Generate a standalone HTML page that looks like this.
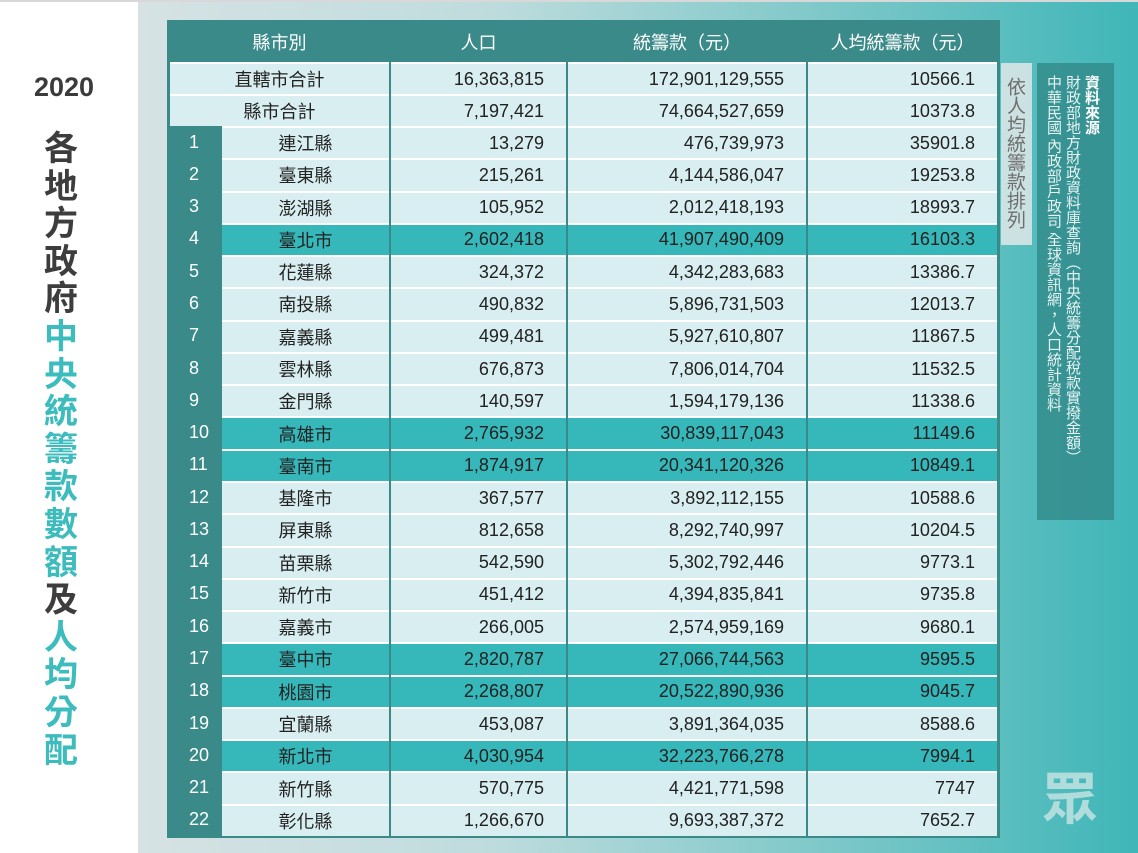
<!DOCTYPE html>
<html><head><meta charset="utf-8">
<style>
*{margin:0;padding:0;box-sizing:border-box}
body{width:1138px;height:853px;overflow:hidden;position:relative;background:#fff;font-family:"Liberation Sans","Noto Sans CJK TC",sans-serif}
#topbar{position:absolute;left:0;top:0;width:1138px;height:2px;background:#d8d8d8}
#left{position:absolute;left:0;top:2px;width:138px;height:851px;background:#fff}
#bg{position:absolute;left:138px;top:2px;width:1000px;height:851px;background:linear-gradient(90deg,#d6e2e4 0%,#bfdcdd 35%,#72c4c5 75%,#3fb6b8 100%)}
#year{position:absolute;left:0;width:128px;top:72px;text-align:center;font-weight:bold;font-size:27px;color:#3b3b3b}
.tc{position:absolute;left:40px;width:42px;height:36px;font-size:34px;line-height:36px;font-weight:bold;color:#3d3d3d;text-align:center;font-family:"Noto Sans CJK TC",sans-serif}
.tc.t{color:#3dbcbe}
.cell{position:absolute;display:flex;align-items:center;font-size:18px;color:#222}
.hd{color:#fff;justify-content:center;font-size:18px}
#note{position:absolute;left:1001px;top:63px;width:31px;height:182px;background:rgba(225,232,232,0.85);color:#6e6e6e;font-size:19px;writing-mode:vertical-rl;line-height:31px;padding-top:14px;font-family:"Noto Sans CJK TC",sans-serif}
#src{position:absolute;left:1037px;top:63px;width:77px;height:457px;background:rgba(52,140,140,0.85);color:#e8f4f4;font-size:15px;writing-mode:vertical-rl;line-height:19px;padding:12px 12px 0 0;font-family:"Noto Sans CJK TC",sans-serif}
#logo{position:absolute;left:1042px;top:755px;font-size:56px;font-weight:bold;color:#b0dcdc;font-family:"Noto Sans CJK TC",sans-serif}
</style></head><body>
<div id="topbar"></div>
<div id="left"></div>
<div id="bg"></div>
<div id="year">2020</div>
<div id="title"></div>
<div id="table"></div>
<div id="note">依人均統籌款排列</div>
<div id="src"><b style="color:#fff">資料來源</b><br>財政部地方財政資料庫查詢（中央統籌分配稅款實撥金額）<br>中華民國 內政部戶政司 全球資訊網，人口統計資料</div>
<div id="logo">眾</div>
<script>
const titleChars="各地方政府中央統籌款數額及人均分配";
const titleTeal=[0,0,0,0,0,1,1,1,1,1,1,1,0,1,1,1,1];
const names=["連江縣","臺東縣","澎湖縣","臺北市","花蓮縣","南投縣","嘉義縣","雲林縣","金門縣","高雄市","臺南市","基隆市","屏東縣","苗栗縣","新竹市","嘉義市","臺中市","桃園市","宜蘭縣","新北市","新竹縣","彰化縣"];
const population=["13,279","215,261","105,952","2,602,418","324,372","490,832","499,481","676,873","140,597","2,765,932","1,874,917","367,577","812,658","542,590","451,412","266,005","2,820,787","2,268,807","453,087","4,030,954","570,775","1,266,670"];
const amounts=["476,739,973","4,144,586,047","2,012,418,193","41,907,490,409","4,342,283,683","5,896,731,503","5,927,610,807","7,806,014,704","1,594,179,136","30,839,117,043","20,341,120,326","3,892,112,155","8,292,740,997","5,302,792,446","4,394,835,841","2,574,959,169","27,066,744,563","20,522,890,936","3,891,364,035","32,223,766,278","4,421,771,598","9,693,387,372"];
const perCapita=["35901.8","19253.8","18993.7","16103.3","13386.7","12013.7","11867.5","11532.5","11338.6","11149.6","10849.1","10588.6","10204.5","9773.1","9735.8","9680.1","9595.5","9045.7","8588.6","7994.1","7747","7652.7"];
const highlighted=["臺北市","高雄市","臺南市","臺中市","桃園市","新北市"];
const summaryLabels=["直轄市合計","縣市合計"];
const summaryPop=["16,363,815","7,197,421"];
const summaryAmt=["172,901,129,555","74,664,527,659"];
const summaryPer=["10566.1","10373.8"];
const headers=["縣市別","人口","統籌款（元）","人均統籌款（元）"];

const TT=document.getElementById('title');
[...titleChars].forEach((ch,i)=>{
  const s=document.createElement('div');
  s.className='tc'+(titleTeal[i]?' t':'');
  s.style.top=(128+i*37.6)+'px';
  s.textContent=ch;
  
  
  TT.appendChild(s);
});

const T=document.getElementById('table');
const X0=169,X1=222,X2=390,X3=567,X4=807,X5=998;
const TEAL='#3b8a8a',LIGHT='#d9eef0',HL='#36b7b9';
function box(x,y,w,h,bg,txt,align,pad){
  const d=document.createElement('div');
  d.className='cell';
  d.style.left=x+'px';d.style.top=y+'px';d.style.width=w+'px';d.style.height=h+'px';
  d.style.background=bg;d.textContent=txt;
  d.style.justifyContent=align;
  if(pad)d.style.padding=pad;
  T.appendChild(d);return d;
}
function dcell(x,y,w,h,bg,txt,align,pad){
  const d=box(x,y,w,h,bg,txt,align,pad);
  d.style.borderTop='2px solid #fff';
  return d;
}
const fr=box(X0-2,20,X5-X0+4,836-20+2,TEAL,'','center');


const hx=[[X0,X2],[X2,X3],[X3,X4],[X4,X5]];
headers.forEach((h,i)=>{
  const c=box(hx[i][0],22,hx[i][1]-hx[i][0],40,TEAL,h,'center');
  c.classList.add('hd');
  
  
});
summaryLabels.forEach((s,i)=>{
  const y=62+i*32, h=32;
  const a=dcell(X0+1,y,X2-X0-2,h,LIGHT,s,'center');
  
  
  const b=dcell(X2+1,y,X3-X2-2,h,LIGHT,summaryPop[i],'flex-end','0 22px 0 0');
  
  
  const c=dcell(X3+1,y,X4-X3-2,h,LIGHT,summaryAmt[i],'flex-end','0 22px 0 0');
  
  
  const d=dcell(X4+1,y,X5-X4-2,h,LIGHT,summaryPer[i],'flex-end','0 22px 0 0');
  
  
});
const RH=(836-126)/22;
names.forEach((n,i)=>{
  const y=126+i*RH, h=RH;
  const bg=highlighted.includes(n)?HL:LIGHT;
  const r=box(X0,y,X1-X0,RH,TEAL,String(i+1),'flex-start','0 0 0 20px');
  r.style.color='#fff';
  
  
  const a=dcell(X1,y,X2-X1-1,h,bg,n,'center');
  
  
  const b=dcell(X2+1,y,X3-X2-2,h,bg,population[i],'flex-end','0 22px 0 0');
  
  
  const c=dcell(X3+1,y,X4-X3-2,h,bg,amounts[i],'flex-end','0 22px 0 0');
  
  
  const d=dcell(X4+1,y,X5-X4-2,h,bg,perCapita[i],'flex-end','0 22px 0 0');
  
  
});
</script>
</body></html>
